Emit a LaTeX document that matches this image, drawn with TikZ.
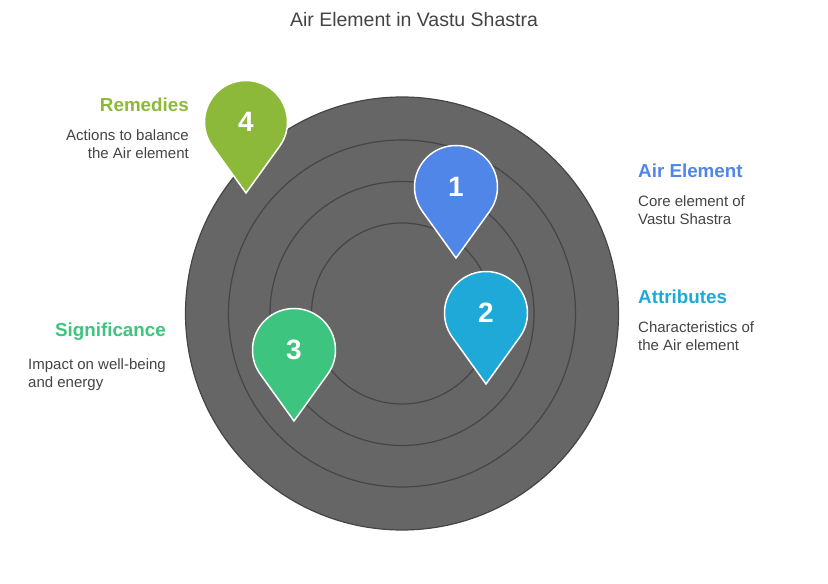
\documentclass[tikz,border=0pt]{standalone}
\usepackage{fontspec}
\setmainfont{Liberation Sans}
\usetikzlibrary{positioning,calc}
\definecolor{ring}{HTML}{666666}
\definecolor{ringline}{HTML}{454545}
\definecolor{cone}{HTML}{4F86E8}
\definecolor{ctwo}{HTML}{1EA9D8}
\definecolor{cthree}{HTML}{3DC47E}
\definecolor{cfour}{HTML}{8DB93A}
\definecolor{txt}{HTML}{444444}
\newcommand{\pin}[4]{% name, x, y, colour
  \coordinate (#1) at (#2,#3);
  \fill[#4,draw=white,line width=1.5pt] ($(#1)+(0,-71)$) -- ($(#1)+(-35.5:41.5)$)
    arc[start angle=-35.5,end angle=215.5,radius=41.5] -- cycle;
}
\begin{document}
\begin{tikzpicture}[x=1pt,y=1pt]
  \tikzset{head/.style = {font=\bfseries\fontsize{18.8}{21}\selectfont,inner sep=0},
           desc/.style = {font=\fontsize{15}{18}\selectfont,text=txt,inner sep=0},
           num/.style = {font=\bfseries\fontsize{28}{30}\selectfont,text=white}}
  \useasboundingbox (0,0) rectangle (828,584);
  \node[font=\fontsize{19.5}{22}\selectfont,text=txt] (title) at (414,564) {Air Element in Vastu Shastra};

  % rings
  \fill[ring,draw=ringline,line width=1.2pt] (402,270.5) circle[radius=216.5];
  \foreach \r in {173.5,132,90.5}
    \draw[ringline,line width=1.2pt] (402,270.5) circle[radius=\r];

  % pins
  \pin{p1}{456}{397}{cone}
  \pin{p2}{486}{271}{ctwo}
  \pin{p3}{294}{234}{cthree}
  \pin{p4}{246}{462}{cfour}
  \node[num] (n1) at (p1) {1};
  \node[num] (n2) at (p2) {2};
  \node[num] (n3) at (p3) {3};
  \node[num] (n4) at (p4) {4};

  % labels
  \node[head,text=cone,anchor=west] (h1) at (638,413) {Air Element};
  \node[desc,below=17pt of h1.south west,anchor=north west,align=left] (d1) {Core element of\\Vastu Shastra};
  \node[head,text=ctwo,anchor=west] (h2) at (638,287) {Attributes};
  \node[desc,below=17pt of h2.south west,anchor=north west,align=left] (d2) {Characteristics of\\the Air element};
  \node[head,text=cthree,anchor=east] (h3) at (166,252) {Significance};
  \node[desc,below=17pt of h3.south east,anchor=north east,align=left] (d3) {Impact on well-being\\and energy};
  \node[head,text=cfour,anchor=east] (h4) at (189,479) {Remedies};
  \node[desc,below=17pt of h4.south east,anchor=north east,align=right] (d4) {Actions to balance\\the Air element};
\end{tikzpicture}
\end{document}
